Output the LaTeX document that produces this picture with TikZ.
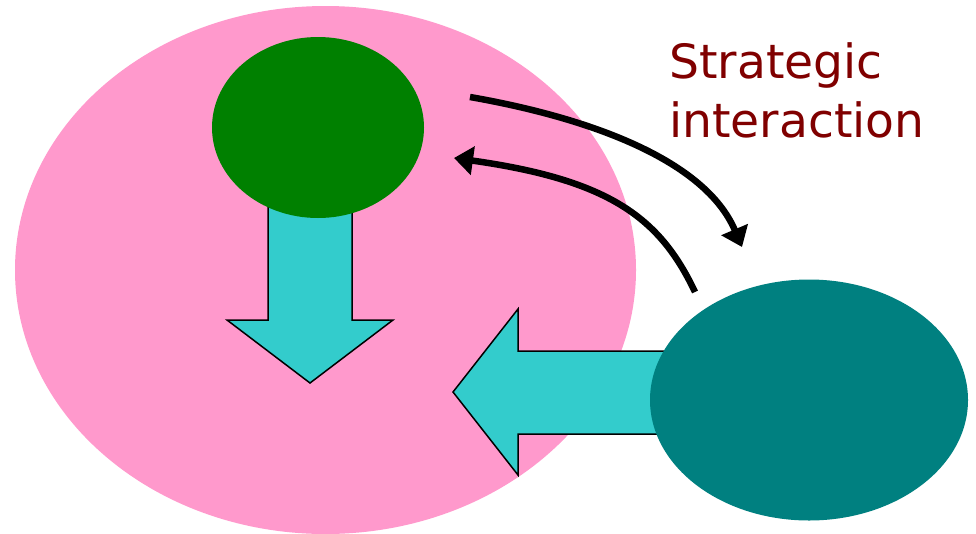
\documentclass[tikz,border=0pt]{standalone}
\usepackage{fontspec}
\setmainfont{DejaVu Sans}
\usetikzlibrary{shapes.geometric,arrows.meta}
\definecolor{pinkfill}{HTML}{FF99CC}
\definecolor{greenfill}{HTML}{008000}
\definecolor{tealfill}{HTML}{008080}
\definecolor{cyanfill}{HTML}{33CCCC}
\definecolor{textred}{HTML}{800000}
\tikzset{
  blob/.style={ellipse, draw=none, inner sep=0pt},
  blockarrow/.style={fill=cyanfill, draw=black, line width=1.5pt, line join=miter},
  interact/.style={line width=6.5pt, -{Triangle[length=19pt,width=28pt]}},
  label/.style={text=textred, font=\fontsize{47.2}{59}\selectfont, inner sep=0pt, align=left}
}
\begin{document}
\begin{tikzpicture}[x=1pt,y=-1pt]
\useasboundingbox (0,0) rectangle (976,533);
\fill[white] (0,0) rectangle (976,533);
% big pink ellipse
\node[blob, fill=pinkfill, minimum width=621pt, minimum height=528pt] (pink) at (325.5,270) {};
% vertical block arrow
\draw[blockarrow] (268,190) -- (268,320) -- (227,320) -- (310,383) -- (393,320) -- (352,320) -- (352,190);
% green ellipse
\node[blob, fill=greenfill, minimum width=212pt, minimum height=181pt] (green) at (318,127.5) {};
% horizontal block arrow
\draw[blockarrow] (700,351) -- (518,351) -- (518,309) -- (453,392) -- (518,475) -- (518,434) -- (700,434);
% teal ellipse
\node[blob, fill=tealfill, minimum width=318pt, minimum height=241pt] (teal) at (809,400) {};
% connectors
\coordinate (g1) at (470,97);
\coordinate (t1) at (742,247);
\coordinate (t2) at (695,292);
\coordinate (g2) at (454,158);
\draw[interact] (g1) .. controls (590,118) and (705,160) .. (t1);
\draw[interact] (t2) .. controls (660,218) and (610,180) .. (g2);
% label
\node[label, anchor=base west] (lbl) at (669,137) {Strategic\\interaction};
\end{tikzpicture}
\end{document}
